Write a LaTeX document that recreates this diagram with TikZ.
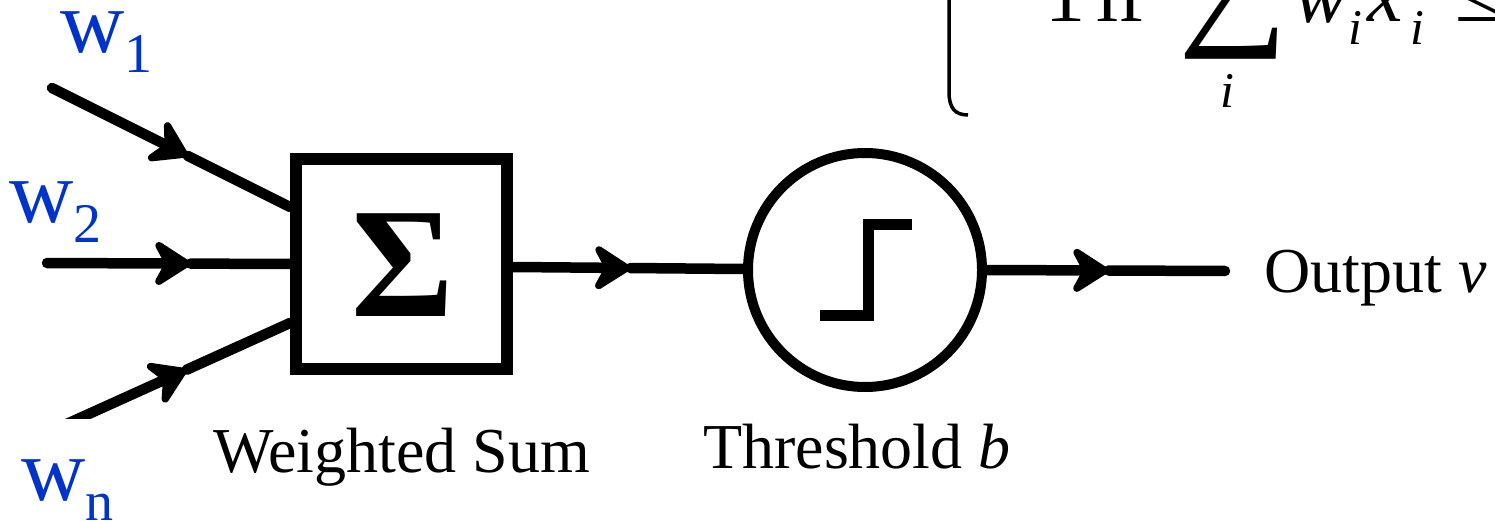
\documentclass[tikz,border=0pt]{standalone}
\usepackage{fontspec}
\setmainfont{Liberation Serif}
\usetikzlibrary{arrows.meta,calc}
\definecolor{wblue}{RGB}{0,51,204}
\newcommand{\wlabel}[1]{w\raisebox{-20pt}{\fontsize{56}{56}\selectfont #1}}
\tikzset{
  wire/.style={line width=10.5pt, line cap=round},
  midarrow/.style={wire, -{Stealth[length=44pt,width=56pt,inset=15pt,round]}},
  sumbox/.style={draw, line width=12pt, minimum width=211pt, minimum height=210pt, inner sep=0pt},
  thrcircle/.style={draw, circle, line width=10pt, minimum size=234pt, inner sep=0pt},
  stepline/.style={line width=11pt, line join=miter},
  wlab/.style={anchor=base west, inner sep=0pt, text=wblue, font=\fontsize{89}{89}\selectfont},
  caption/.style={anchor=base west, inner sep=0pt, font=\fontsize{64}{64}\selectfont},
  fml/.style={anchor=base west, inner sep=0pt, font=\fontsize{80}{80}\selectfont},
  fmlit/.style={fml, font=\fontsize{80}{80}\selectfont\itshape},
  fmlsub/.style={anchor=base west, inner sep=0pt, font=\fontsize{50}{50}\selectfont\itshape},
}
\begin{document}
\begin{tikzpicture}[x=1pt,y=-1pt]
\useasboundingbox (0,0) rectangle (1495,521);
\clip (0,0) rectangle (1495,521);

% summing box and threshold unit
\node[sumbox] (sum) at (401.5,264) {};
\node[font=\fontsize{157}{157}\selectfont\bfseries] (sigma) at (403,265) {Σ};
\node[thrcircle] (thr) at (865,270) {};
\draw[stepline] ([shift={(-45,45)}]thr.center) -- ([shift={(3,45)}]thr.center)
  -- ([shift={(3,-45)}]thr.center) -- ([shift={(47,-45)}]thr.center);

% free ends of the connectors and their entry points
\coordinate (in1) at (52,88);
\coordinate (in2) at (47,263);
\coordinate (in3) at (60,427);
\coordinate (outend) at (1225,271);
\coordinate (e1) at ([yshift=57pt]sum.west);
\coordinate (e2) at (sum.west);
\coordinate (e3) at ([yshift=-59pt]sum.west);
\coordinate (sx) at ([yshift=-3pt]sum.east);
\coordinate (tx) at ([yshift=1pt]thr.west);

% arrow positions along each connector
\coordinate (m1) at ($(in1)!0.57!(e1)$);
\coordinate (m2) at ($(in2)!0.59!(e2)$);
\coordinate (m3) at ($(in3)!0.55!(e3)$);
\coordinate (m4) at ($(sx)!0.51!(tx)$);
\coordinate (m5) at ($(thr.east)!0.51!(outend)$);

% weighted inputs
\draw[midarrow] (in1) -- (m1);
\draw[wire] (m1) -- (e1);
\draw[midarrow] (in2) -- (m2);
\draw[wire] (m2) -- (e2);
\begin{scope}
  \clip (0,0) rectangle (300,418);
  \draw[midarrow] (in3) -- (m3);
  \draw[wire] (m3) -- (e3);
\end{scope}

% sum to threshold, threshold to output
\draw[midarrow] (sx) -- (m4);
\draw[wire] (m4) -- (tx);
\draw[midarrow] (thr.east) -- (m5);
\draw[wire] (m5) -- (outend);

% weight labels
\node[wlab] (w1) at (60,53) {\wlabel{1}};
\node[wlab] (w2) at (9,223) {\wlabel{2}};
\node[wlab] (wn) at (21,500) {\wlabel{n}};

% captions
\node[caption] (sumcap) at (213,472) {Weighted Sum};
\node[caption] (thrcap) at (703,468) {Threshold \textit{b}};
\node[caption] (outcap) at (1264,292) {Output \textit{v}};

% lower case of the output rule
\draw[line width=3.5pt] (949,-10) -- (949,92) .. controls (949,108) and (955,115) .. (968,115);
\node[fml] (minus) at (987,24.5) {−};
\node[fml] (one) at (1045,22) {1};
\node[fml] (if) at (1096,22) {if};
\node[anchor=base west, inner sep=0pt, font=\fontsize{154}{154}\selectfont] (bigsum) at (1178,27) {∑};
\node[fmlsub] (si) at (1220,108) {i};
\node[fmlit] (wi) at (1294,23) {w};
\node[fmlsub] (wsub) at (1348,45) {i};
\node[fmlit] (xi) at (1367,22) {x};
\node[fmlsub] (xsub) at (1410,45) {i};
\node[fml] (leq) at (1455,22) {≤};
\end{tikzpicture}
\end{document}
